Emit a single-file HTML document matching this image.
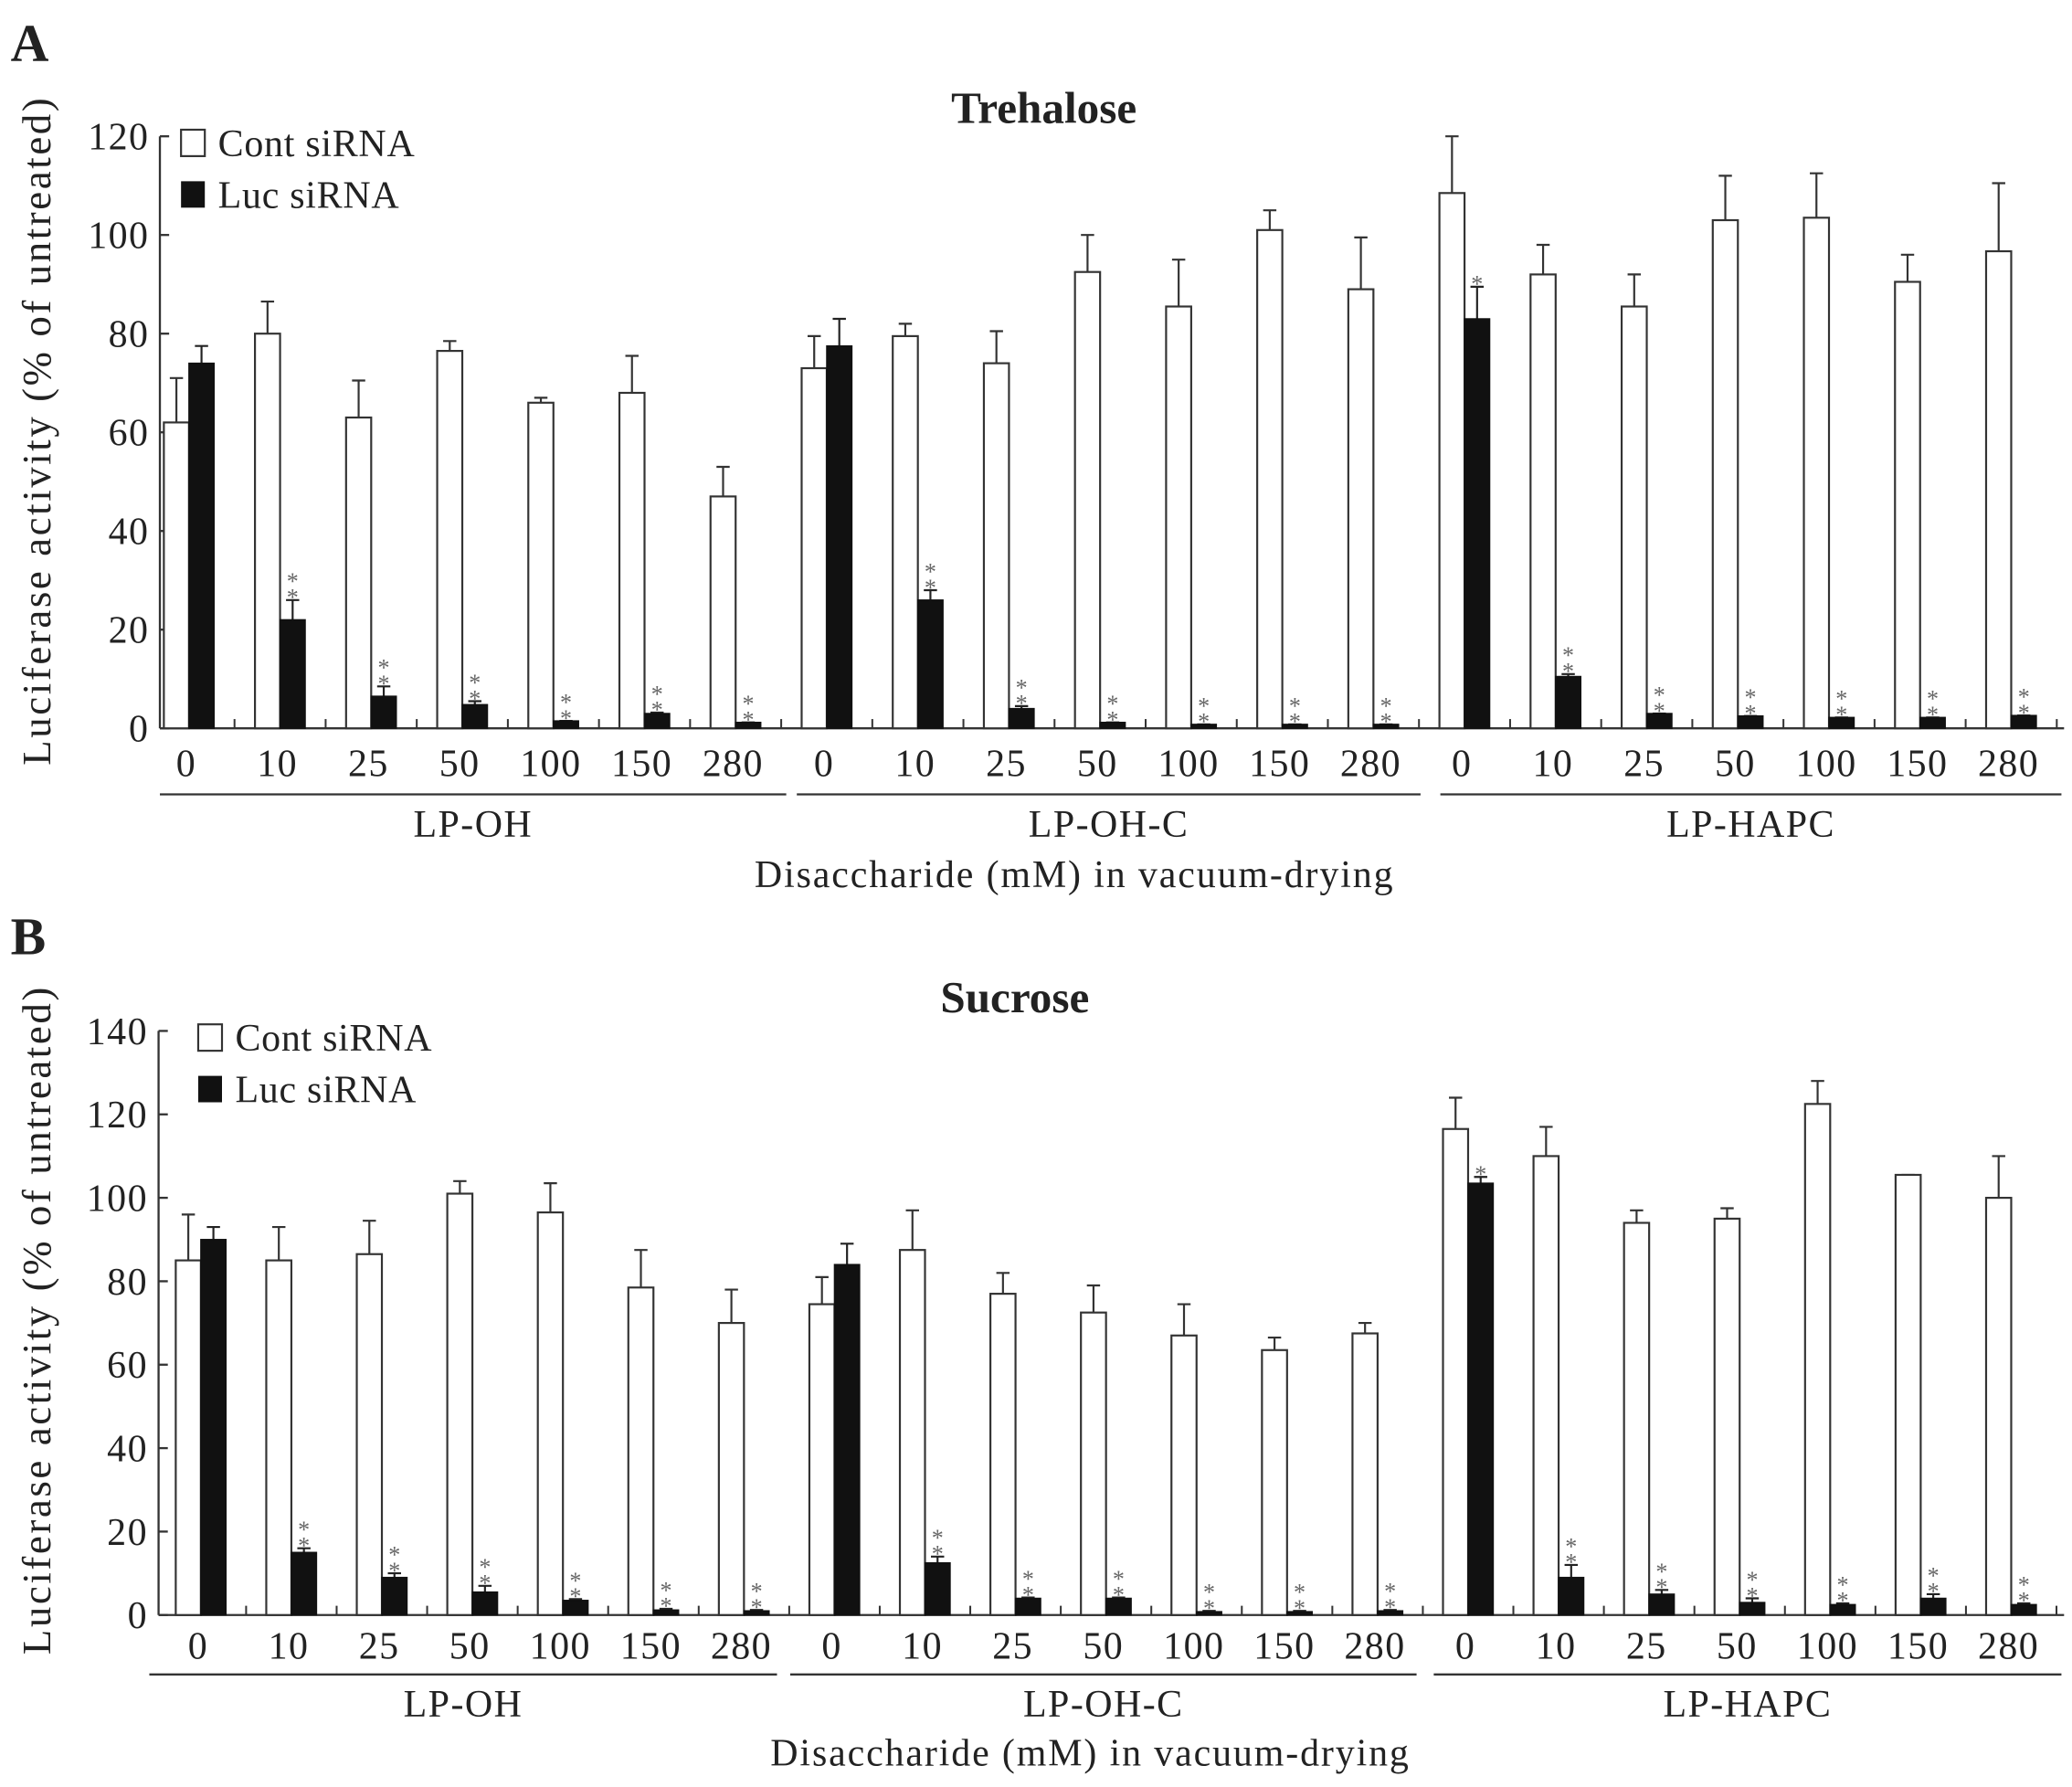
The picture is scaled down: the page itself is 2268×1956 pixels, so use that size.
<!DOCTYPE html>
<html><head><meta charset="utf-8">
<style>
html,body{margin:0;padding:0;background:#fff;}
svg{display:block;}
text{font-family:"Liberation Serif",serif;fill:#222;}
</style></head>
<body>
<svg id="fig" width="2268" height="1956" viewBox="0 0 1568 1352" xmlns="http://www.w3.org/2000/svg">
<text x="8" y="46" font-size="40" font-weight="bold">A</text>
<text x="8" y="722" font-size="40" font-weight="bold">B</text>
</svg>
<script>
const categories = ["0","10","25","50","100","150","280","0","10","25","50","100","150","280","0","10","25","50","100","150","280"];
const groups = ["LP-OH","LP-OH-C","LP-HAPC"];
const treContValues = [62,80,63,76.5,66,68,47, 73,79.5,74,92.5,85.5,101,89, 108.5,92,85.5,103,103.5,90.5,96.7];
const treContErr = [71,86.5,70.5,78.5,67,75.5,53, 79.5,82,80.5,100,95,105,99.5, 120,98,92,112,112.5,96,110.5];
const treLucValues = [74,22,6.5,4.8,1.5,3,1.2, 77.5,26,4,1.2,0.8,0.8,0.8, 83,10.5,3,2.5,2.2,2.2,2.6];
const treLucErr = [77.5,26,8.5,5.5,1.5,3.2,1.2, 83,28,4.5,1.2,0.8,0.8,0.8, 89.5,11,3,2.5,2.2,2.2,2.6];
const treStars = ["","**","**","**","**","**","**","","**","**","**","**","**","**","*","**","**","**","**","**","**"];
const treTicks = [0,20,40,60,80,100,120];
const sucContValues = [85,85,86.5,101,96.5,78.5,70, 74.5,87.5,77,72.5,67,63.5,67.5, 116.5,110,94,95,122.5,105.5,100];
const sucContErr = [96,93,94.5,104,103.5,87.5,78, 81,97,82,79,74.5,66.5,70, 124,117,97,97.5,128,105.5,110];
const sucLucValues = [90,15,9,5.5,3.5,1.2,1, 84,12.5,4,4,0.8,0.8,1, 103.5,9,5,3,2.5,4,2.5];
const sucLucErr = [93,16,10,7,3.8,1.5,1.2, 89,14,4.2,4.2,1,1,1.2, 105,12,6,4,2.8,5,2.8];
const sucStars = ["","**","**","**","**","**","**","","**","**","**","**","**","**","*","**","**","**","**","**","**"];
const sucTicks = [0,20,40,60,80,100,120,140];

const NS="http://www.w3.org/2000/svg";
const svg=document.getElementById('fig');
function mk(tag,attrs,parent){const e=document.createElementNS(NS,tag);for(const k in attrs)e.setAttribute(k,attrs[k]);(parent||svg).appendChild(e);return e;}

function panel(cfg){
  const g=mk('g',{});
  
  
  const y=v=>cfg.y0-(v/cfg.ymax)*(cfg.y0-cfg.ytop);
  const cx=i=>cfg.c0+i*cfg.step;
  const bw=19;
  const ya=mk('line',{x1:cfg.ax,y1:cfg.ytop,x2:cfg.ax,y2:cfg.y0,stroke:'#333','stroke-width':1.6},g);
  
  
  const xa=mk('line',{x1:cfg.ax,y1:cfg.y0,x2:1562,y2:cfg.y0,stroke:'#333','stroke-width':1.6},g);
  
  
  cfg.ticks.forEach(t=>{
    mk('line',{x1:cfg.ax,y1:y(t),x2:cfg.ax+7,y2:y(t),stroke:'#333','stroke-width':1.6},g);
    const tl=mk('text',{x:cfg.ax-8,y:y(t)+10,'font-size':29,'text-anchor':'end','letter-spacing':1},g);
    tl.textContent=t;
    
    
  });
  for(let i=0;i<categories.length;i++){
    mk('line',{x1:cx(i)+cfg.step/2,y1:cfg.y0,x2:cx(i)+cfg.step/2,y2:cfg.y0-7,stroke:'#333','stroke-width':1.4},g);
    const c=cx(i);
    const e1=mk('path',{d:`M${c-bw/2} ${y(cfg.cont[i])}V${y(cfg.contErr[i])}M${c-bw/2-5} ${y(cfg.contErr[i])}H${c-bw/2+5}`,stroke:'#333','stroke-width':1.5,fill:'none'},g);
    
    
    const b1=mk('rect',{x:c-bw,y:y(cfg.cont[i]),width:bw,height:cfg.y0-y(cfg.cont[i]),fill:'#fff',stroke:'#333','stroke-width':1.5},g);
    
    
    const e2=mk('path',{d:`M${c+bw/2} ${y(cfg.luc[i])}V${y(cfg.lucErr[i])}M${c+bw/2-5} ${y(cfg.lucErr[i])}H${c+bw/2+5}`,stroke:'#222','stroke-width':1.5,fill:'none'},g);
    
    
    const b2=mk('rect',{x:c,y:y(cfg.luc[i]),width:bw,height:cfg.y0-y(cfg.luc[i]),fill:'#111',stroke:'#111','stroke-width':1},g);
    
    
    const s=cfg.stars[i];
    for(let k=0;k<s.length;k++){
      const st=mk('text',{x:c+bw/2,y:y(cfg.lucErr[i])+4-k*12,'font-size':18,'text-anchor':'middle'},g);
      st.style.fill='#666';
      st.textContent='*';
      
      
    }
    const cl=mk('text',{x:c-2,y:cfg.labY,'font-size':29,'text-anchor':'middle','letter-spacing':1},g);
    cl.textContent=categories[i];
    
    
  }
  cfg.gl.forEach((r,j)=>{
    const l=mk('line',{x1:r[0],y1:cfg.glY,x2:r[1],y2:cfg.glY,stroke:'#333','stroke-width':1.6},g);
    
    
    const t=mk('text',{x:(r[0]+r[1])/2,y:cfg.glY+32,'font-size':29,'text-anchor':'middle','letter-spacing':1},g);
    t.textContent=groups[j];
    
    
  });
  const xt=mk('text',{x:cfg.xlX-241,y:cfg.xlY,'font-size':29,textLength:483,lengthAdjust:'spacing'},g);
  xt.textContent='Disaccharide (mM) in vacuum-drying';
  
  
  const yt=mk('text',{x:-252,y:0,'font-size':31,textLength:505,lengthAdjust:'spacing',transform:`translate(38,${cfg.ylY}) rotate(-90)`},g);
  yt.textContent='Luciferase activity (% of untreated)';
  
  
  const tt=mk('text',{x:cfg.titleX,y:cfg.titleY,'font-size':34,'font-weight':'bold','text-anchor':'middle'},g);
  tt.textContent=cfg.title;
  
  
  const lg=mk('g',{},g);
  
  
  mk('rect',{x:cfg.legX,y:cfg.legY-17,width:18,height:20,fill:'#fff',stroke:'#333','stroke-width':1.5},lg);
  const l1=mk('text',{x:cfg.legX+28,y:cfg.legY+3,'font-size':29,'letter-spacing':0.5},lg);
  l1.textContent='Cont siRNA';
  
  
  mk('rect',{x:cfg.legX,y:cfg.legY+22,width:18,height:20,fill:'#111'},lg);
  const l2=mk('text',{x:cfg.legX+28,y:cfg.legY+42,'font-size':29,'letter-spacing':0.5},lg);
  l2.textContent='Luc siRNA';
  
  
}
panel({name:'trehalose-chart',ax:121,y0:551,ytop:103,ymax:120,c0:143,step:68.95,ticks:treTicks,
  cont:treContValues,contErr:treContErr,luc:treLucValues,lucErr:treLucErr,stars:treStars,
  labY:587,glY:601,gl:[[121,595],[603,1075],[1090,1560]],xlX:812,xlY:671,ylY:327,
  title:'Trehalose',titleX:790,titleY:93,legX:137,legY:115});
panel({name:'sucrose-chart',ax:120,y0:1222,ytop:780,ymax:140,c0:152,step:68.5,ticks:sucTicks,
  cont:sucContValues,contErr:sucContErr,luc:sucLucValues,lucErr:sucLucErr,stars:sucStars,
  labY:1255,glY:1267,gl:[[113,588],[598,1072],[1085,1560]],xlX:824,xlY:1336,ylY:1000,
  title:'Sucrose',titleX:768,titleY:766,legX:150,legY:792});
</script>
</body></html>
